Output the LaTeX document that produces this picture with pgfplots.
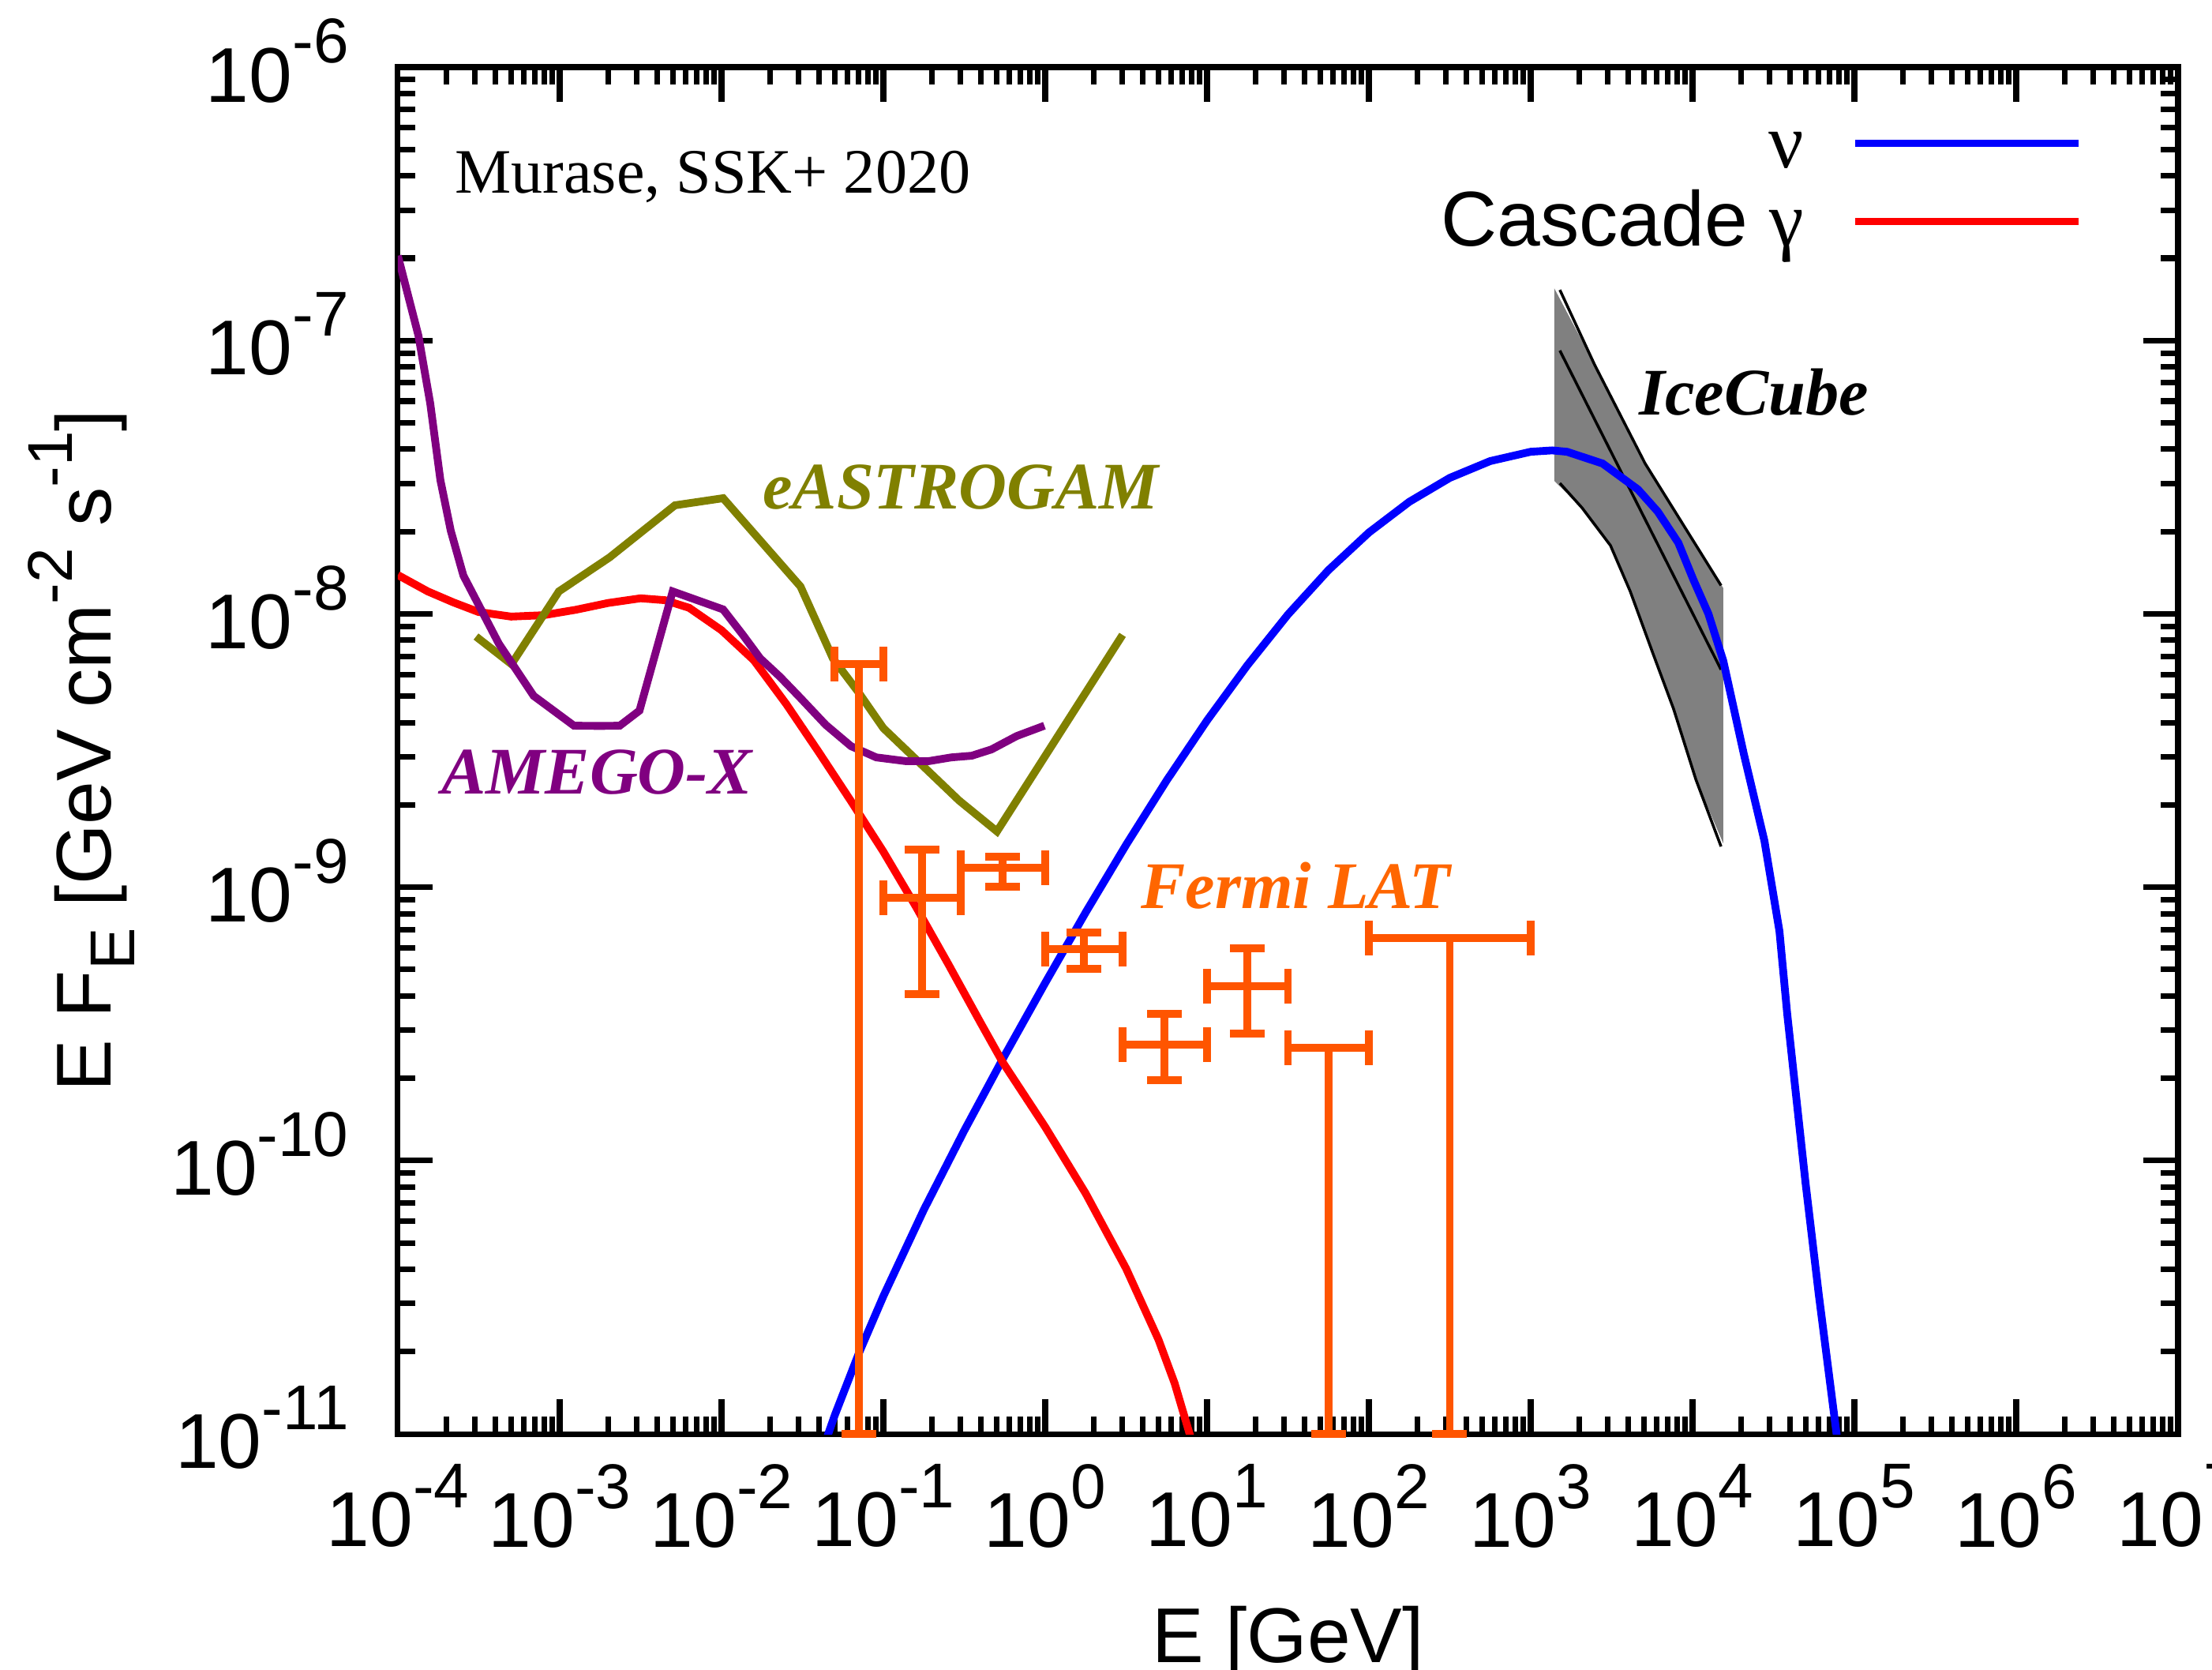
\documentclass[border=0pt]{standalone}
\usepackage{fontspec}
\setmainfont{Liberation Sans}
\newfontfamily\tnr{Liberation Serif}
\usepackage{pgfplots}
\pgfplotsset{compat=1.18}
\usetikzlibrary{calc}

\definecolor{nublue}{RGB}{0,0,255}
\definecolor{gamred}{RGB}{255,0,0}
\definecolor{amego}{RGB}{128,0,128}
\definecolor{eastro}{RGB}{128,128,0}
\definecolor{fermibar}{RGB}{255,85,0}
\definecolor{fermitxt}{RGB}{255,102,0}

\newcommand{\lbl}{\fontsize{14}{17}\selectfont}
\newcommand{\sps}[1]{\raisebox{0.5em}{\fontsize{11.4}{13}\selectfont #1}}
\newcommand{\sbs}[1]{\raisebox{-0.3em}{\fontsize{11.4}{13}\selectfont #1}}
\newcommand{\tp}[1]{10\sps{#1}}

\begin{document}
\begin{tikzpicture}
\begin{axis}[
    name=ax,
    scale only axis,
    width=11.275cm, height=8.655cm,
    xmode=log, ymode=log,
    xmin=1e-4, xmax=1e7, ymin=1e-11, ymax=1e-6,
    axis line style={line width=1pt},
    tick style={line width=1pt, black},
    major tick length=0.22cm, minor tick length=0.11cm,
    xtick={1e-4,1e-3,1e-2,1e-1,1,1e1,1e2,1e3,1e4,1e5,1e6,1e7},
    xticklabels={\tp{-4},\tp{-3},\tp{-2},\tp{-1},\tp{0},\tp{1},\tp{2},\tp{3},\tp{4},\tp{5},\tp{6},\tp{7}},
    ytick={1e-11,1e-10,1e-9,1e-8,1e-7,1e-6},
    yticklabels={\tp{-11},\tp{-10},\tp{-9},\tp{-8},\tp{-7},\tp{-6}},
    tick label style={font=\lbl},
    xticklabel style={inner sep=0pt, yshift=-0.185cm},
    yticklabel style={inner sep=0pt, xshift=-0.305cm, yshift=0.04cm},
    xlabel={E [GeV]},
    ylabel={E F\sbs{E} [GeV cm\sps{-2} s\sps{-1}]},
    label style={font=\lbl},
    xlabel style={at={(axis description cs:0.5,-0.167)}, anchor=base, inner sep=0pt},
    ylabel style={at={(axis description cs:-0.161,0.5)}, anchor=base, inner sep=0pt},
    legend plot pos=right,
    legend cell align=right,
    legend image code/.code={\draw[#1] (0cm,0.08cm) -- (1.415cm,0.08cm);},
    legend style={at={(rel axis cs:0.9468,0.9644)}, anchor=north east,
        draw=none, fill=none, font=\lbl, inner sep=0pt, row sep=0pt, column sep=0.3cm,
        nodes={inner sep=0pt, text height=0.32cm, text depth=0.175cm}},
]

% IceCube band
\addplot[fill=gray, draw=none, forget plot] coordinates {
    (1400,1.55e-7) (2483,8.147e-8) (5093,3.548e-8) (15488,1.242e-8)
    (15488,1.445e-9) (10471,2.483e-9) (7638,4.487e-9) (5702,7.145e-9)
    (4121,1.208e-8) (3112,1.778e-8) (2075,2.443e-8) (1400,3.062e-8)
} -- cycle;
\addplot[black, line width=0.5pt, forget plot] coordinates {
    (1514,1.531e-7) (2483,8.147e-8) (5093,3.548e-8) (15000,1.27e-8)
};
\addplot[black, line width=0.5pt, forget plot] coordinates {
    (1514,9.183e-8) (15000,6.252e-9)
};
\addplot[black, line width=0.5pt, forget plot] coordinates {
    (1514,3.006e-8) (2075,2.443e-8) (3112,1.778e-8) (4121,1.208e-8)
    (5702,7.145e-9) (7638,4.487e-9) (10471,2.483e-9) (15000,1.409e-9)
};

% neutrinos
\addplot[nublue, line width=1.4pt] coordinates {
    (0.03981,7.943e-12) (0.05012,1.172e-11) (0.07079,1.982e-11) (0.1,3.192e-11)
    (0.1778,6.607e-11) (0.3162,1.288e-10) (0.5623,2.427e-10) (1,4.467e-10)
    (1.778,8.084e-10) (3.162,1.429e-9) (5.623,2.455e-9) (10,4.074e-9)
    (17.78,6.494e-9) (31.62,9.943e-9) (56.23,1.445e-8) (100,1.984e-8)
    (177.8,2.570e-8) (316.2,3.144e-8) (562.3,3.622e-8) (1000,3.917e-8)
    (1355,3.963e-8) (1675,3.917e-8) (2780,3.548e-8) (4603,2.851e-8)
    (6095,2.366e-8) (8166,1.820e-8) (10116,1.334e-8) (12531,1.0e-8)
    (15488,6.730e-9) (20749,3.069e-9) (27797,1.479e-9) (34435,6.9e-10)
    (38459,3.44e-10) (49888,8.3e-11) (60256,3.236e-11) (77625,1e-11)
    (85000,6.5e-12)
};
\addlegendentry{{\tnr ν}}

% cascade gamma
\addplot[gamred, line width=1.4pt] coordinates {
    (1e-4,1.387e-8) (1.531e-4,1.208e-8) (2.198e-4,1.102e-8) (3.148e-4,1.016e-8)
    (5.012e-4,9.772e-9) (7.943e-4,9.886e-9) (1.259e-3,1.035e-8) (1.995e-3,1.096e-8)
    (3.162e-3,1.140e-8) (4.467e-3,1.122e-8) (6.310e-3,1.052e-8) (1e-2,8.710e-9)
    (1.585e-2,6.761e-9) (2.512e-2,4.677e-9) (3.981e-2,3.126e-9) (6.310e-2,2.065e-9)
    (0.1,1.349e-9) (0.1585,8.511e-10) (0.2512,5.248e-10) (0.3981,3.199e-10)
    (0.5458,2.291e-10) (1,1.327e-10) (1.778,7.586e-11) (3.162,4.027e-11)
    (5.012,2.213e-11) (6.310,1.531e-11) (7.943,9.66e-12) (8.913,7.41e-12)
};
\addlegendentry{Cascade {\tnr γ}}

% eASTROGAM
\addplot[eastro, line width=1.4pt, forget plot] coordinates {
    (3.041e-4,8.260e-9) (5.035e-4,6.546e-9) (9.886e-4,1.208e-8) (2.028e-3,1.607e-8)
    (5.152e-3,2.495e-8) (1.023e-2,2.649e-8) (3.076e-2,1.259e-8) (4.875e-2,6.871e-9)
    (6.982e-2,5.188e-9) (0.1,3.819e-9) (0.2938,2.075e-9) (0.5035,1.600e-9)
    (3.006,8.375e-9)
};

% AMEGO-X
\addplot[amego, line width=1.4pt, forget plot] coordinates {
    (1e-4,2.042e-7) (1.340e-4,1.042e-7) (1.585e-4,5.888e-8) (1.832e-4,3.083e-8)
    (2.123e-4,2.014e-8) (2.541e-4,1.380e-8) (4.207e-4,7.780e-9) (6.902e-4,5.012e-9)
    (1.225e-3,3.899e-9) (1.778e-3,3.890e-9) (2.350e-3,3.899e-9) (3.112e-3,4.426e-9)
    (4.989e-3,1.208e-8) (1.023e-2,1.038e-8) (1.355e-2,8.375e-9) (1.734e-2,6.871e-9)
    (2.296e-2,5.888e-9) (3.076e-2,4.920e-9) (4.406e-2,3.926e-9) (6.310e-2,3.281e-9)
    (9.036e-2,2.985e-9) (0.1384,2.891e-9) (0.1897,2.891e-9) (0.2630,2.985e-9)
    (0.3516,3.027e-9) (0.4656,3.192e-9) (0.6668,3.573e-9) (0.9886,3.899e-9)
};

% Fermi LAT: bars
\addplot[fermibar, line width=1.4pt, only marks, mark=-, mark size=0.5pt, forget plot,
    error bars/.cd, x dir=both, x explicit, y dir=both, y explicit,
    error mark=none,
    error bar style={line width=1.4pt, fermibar}]
coordinates {
    (0.0707,6.55e-9) += (0.0293,0) -= (0.0207,6.54e-9)
    (0.1732,9.14e-10) += (0.1268,4.6e-10) -= (0.0732,5.08e-10)
    (0.5477,1.178e-9) += (0.4523,1.16e-10) -= (0.2477,1.73e-10)
    (1.732,5.94e-10) += (1.268,8.8e-11) -= (0.732,9.2e-11)
    (5.477,2.65e-10) += (4.523,7.9e-11) -= (2.477,6.8e-11)
    (17.78,4.35e-10) += (13.84,1.62e-10) -= (7.78,1.44e-10)
    (56.23,2.59e-10) += (43.77,0) -= (24.61,2.49e-10)
    (316.2,6.52e-10) += (683.8,0) -= (216.2,6.42e-10)
};
% Fermi LAT: caps at the ends of the energy bins
\addplot[fermibar, only marks, mark=|, mark size=0.11cm,
    mark options={line width=1.4pt}, forget plot] coordinates {
    (0.05,6.55e-9) (0.1,6.55e-9)
    (0.1,9.14e-10) (0.3,9.14e-10)
    (0.3,1.178e-9) (1.0,1.178e-9)
    (1.0,5.94e-10) (3.0,5.94e-10)
    (3.0,2.65e-10) (10.0,2.65e-10)
    (10.0,4.35e-10) (31.62,4.35e-10)
    (31.62,2.59e-10) (100,2.59e-10)
    (100,6.52e-10) (1000,6.52e-10)
};
% Fermi LAT: caps at the ends of the flux errors
\addplot[fermibar, only marks, mark=-, mark size=0.11cm,
    mark options={line width=1.4pt}, forget plot] coordinates {
    (0.0707,1e-11)
    (0.1732,1.374e-9) (0.1732,4.06e-10)
    (0.5477,1.294e-9) (0.5477,1.005e-9)
    (1.732,6.82e-10) (1.732,5.02e-10)
    (5.477,3.44e-10) (5.477,1.97e-10)
    (17.78,5.97e-10) (17.78,2.91e-10)
    (56.23,1e-11)
    (316.2,1e-11)
};

\node[anchor=base west, inner sep=0pt, font=\tnr\fontsize{11.4}{13}\selectfont]
    at (rel axis cs:0.0315,0.9076) {Murase, SSK+ 2020};
\node[anchor=base west, inner sep=0pt, text=eastro, font=\tnr\bfseries\itshape\fontsize{12}{14}\selectfont]
    at (rel axis cs:0.2044,0.6765) {eASTROGAM};
\node[anchor=base west, inner sep=0pt, text=amego, font=\tnr\bfseries\itshape\fontsize{12}{14}\selectfont]
    at (rel axis cs:0.024,0.4685) {AMEGO-X};
\node[anchor=base west, inner sep=0pt, text=black, font=\tnr\bfseries\itshape\fontsize{12}{14}\selectfont]
    at (rel axis cs:0.6967,0.7458) {IceCube};
\node[anchor=base west, inner sep=0pt, text=fermitxt, font=\tnr\bfseries\itshape\fontsize{12}{14}\selectfont]
    at (rel axis cs:0.4169,0.3847) {Fermi LAT};
\end{axis}
\pgfresetboundingbox
\path[use as bounding box] ($(ax.south west)+(-2.52cm,-1.495cm)$) rectangle ($(ax.north east)+(0.215cm,0.425cm)$);
\end{tikzpicture}
\end{document}
